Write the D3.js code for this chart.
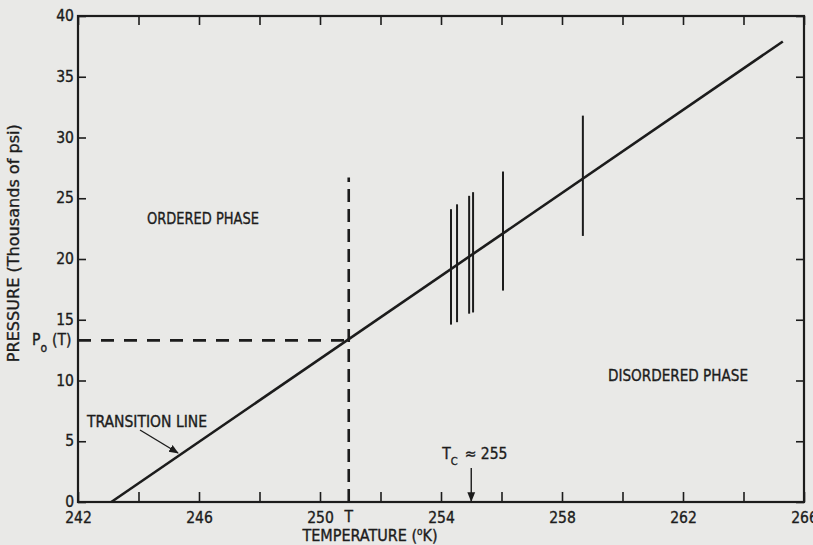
<!DOCTYPE html>
<html>
<head>
<meta charset="utf-8">
<script src="https://cdn.jsdelivr.net/npm/d3@7"></script>
<style>
  body { margin: 0; background: #e9e9e7; }
  svg text { font-family: "DejaVu Sans Condensed", "DejaVu Sans", sans-serif; fill: #1c1c1c;
             stroke: #1c1c1c; stroke-width: 0.35; }
</style>
</head>
<body>
<div id="chart"></div>
<script>
// values
const xTicks = [242, 244, 246, 248, 250, 252, 254, 256, 258, 260, 262, 264, 266];
const xLabels = [242, 246, 250, 254, 258, 262, 266];
const yTicks = [0, 5, 10, 15, 20, 25, 30, 35, 40];

const lineT = [243.1, 265.3];
const lineP = [0, 37.9];

const critT = 250.95;   // "T"
const critP = 13.3;     // "Po (T)"
const critTop = 26.7;   // top of the dashed vertical
const tcValue = 255;

const barT = [254.33, 254.53, 254.93, 255.06, 256.05, 258.69];
const barLow = [14.6, 14.8, 15.5, 15.6, 17.4, 21.9];
const barHigh = [24.1, 24.5, 25.2, 25.5, 27.2, 31.8];

const margin = {top: 16, right: 9, bottom: 43, left: 78},
    width = 813 - margin.left - margin.right,
    height = 545 - margin.top - margin.bottom;

let svg = d3.select("#chart")
            .append("svg")
            .attr("width", 813)
            .attr("height", 545)
        .append("g")
            .attr("transform", `translate(${margin.left}, ${margin.top})`);

const x = d3.scaleLinear().domain([242, 266]).range([0, width]);
const y = d3.scaleLinear().domain([0, 40]).range([height, 0]);

// arrow head
svg.append("defs").append("marker")
    .attr("id", "head")
    .attr("viewBox", "0 0 10 10")
    .attr("refX", 9).attr("refY", 5)
    .attr("markerWidth", 7).attr("markerHeight", 7)
    .attr("orient", "auto")
  .append("path")
    .attr("d", "M0,1 L10,5 L0,9 Z")
    .attr("fill", "#1c1c1c");

// axes, ticks pointing inward
const axBottom = svg.append("g")
    .attr("transform", `translate(0,${height})`)
    .call(d3.axisBottom(x).tickValues(xTicks).tickSize(-10).tickPadding(16)
        .tickFormat(d => xLabels.includes(d) ? d : ""));
const axTop = svg.append("g")
    .call(d3.axisTop(x).tickValues(xTicks).tickSize(-9).tickFormat(""));
const axLeft = svg.append("g")
    .call(d3.axisLeft(y).tickValues(yTicks).tickSize(-8).tickPadding(4));
const axRight = svg.append("g")
    .attr("transform", `translate(${width},0)`)
    .call(d3.axisRight(y).tickValues(yTicks).tickSize(-8).tickFormat(""));

[axBottom, axTop, axLeft, axRight].forEach(g => {
  g.select(".domain").remove();
  g.selectAll(".tick line").attr("stroke", "#1c1c1c").attr("stroke-width", 1.6);
  g.selectAll(".tick text").attr("font-size", 15.5).attr("fill", "#1c1c1c");
});
axBottom.selectAll(".tick text").attr("dy", "0.3em");
axLeft.selectAll(".tick text").attr("dy", "0.3em");

// frame
svg.append("rect")
    .attr("x", 0).attr("y", 0)
    .attr("width", width).attr("height", height)
    .attr("fill", "none")
    .attr("stroke", "#1c1c1c")
    .attr("stroke-width", 2.2);

// dashed guides at the critical point
svg.append("line")
    .attr("x1", x(242)).attr("x2", x(critT))
    .attr("y1", y(critP)).attr("y2", y(critP))
    .attr("stroke", "#1c1c1c").attr("stroke-width", 2.6)
    .attr("stroke-dasharray", "13,10");
svg.append("line")
    .attr("x1", x(critT)).attr("x2", x(critT))
    .attr("y1", y(0)).attr("y2", y(critTop))
    .attr("stroke", "#1c1c1c").attr("stroke-width", 2.6)
    .attr("stroke-dasharray", "13,7");

// transition line
svg.append("line")
    .attr("x1", x(lineT[0])).attr("y1", y(lineP[0]))
    .attr("x2", x(lineT[1])).attr("y2", y(lineP[1]))
    .attr("stroke", "#1c1c1c").attr("stroke-width", 2.6);

// measured ranges
svg.selectAll(".bar")
    .data(barT)
    .join("line")
    .attr("class", "bar")
    .attr("x1", d => x(d)).attr("x2", d => x(d))
    .attr("y1", (d, i) => y(barLow[i]))
    .attr("y2", (d, i) => y(barHigh[i]))
    .attr("stroke", "#1c1c1c").attr("stroke-width", 2);

// labels
svg.append("text").attr("x", 69).attr("y", 208)
    .attr("font-size", 16.5).attr("textLength", 112).attr("lengthAdjust", "spacingAndGlyphs")
    .text("ORDERED PHASE");
svg.append("text").attr("x", 530).attr("y", 365)
    .attr("font-size", 16.5).attr("textLength", 140).attr("lengthAdjust", "spacingAndGlyphs")
    .text("DISORDERED PHASE");
svg.append("text").attr("x", 9).attr("y", 411)
    .attr("font-size", 15.5).attr("textLength", 120).attr("lengthAdjust", "spacingAndGlyphs")
    .text("TRANSITION LINE");
svg.append("line")
    .attr("x1", 62).attr("y1", 414)
    .attr("x2", 100).attr("y2", 437)
    .attr("stroke", "#1c1c1c").attr("stroke-width", 1.4)
    .attr("marker-end", "url(#head)");

// Tc marker
const tc = svg.append("text").attr("x", x(tcValue) - 29).attr("y", 443).attr("font-size", 15.5);
tc.append("tspan").text("T");
tc.append("tspan").attr("font-size", 11).attr("dy", 6).text("C");
tc.append("tspan").attr("dy", -6).attr("dx", 7).text("≈ 255");
svg.append("line")
    .attr("x1", x(tcValue)).attr("x2", x(tcValue))
    .attr("y1", 452).attr("y2", height - 1)
    .attr("stroke", "#1c1c1c").attr("stroke-width", 1.4)
    .attr("marker-end", "url(#head)");

// T under the axis
svg.append("text")
    .attr("x", x(critT)).attr("y", height + 20)
    .attr("text-anchor", "middle").attr("font-size", 15.5).text("T");

// Po (T) on the left
const po = svg.append("text").attr("x", -46).attr("y", y(critP) + 5).attr("font-size", 15.5);
po.append("tspan").text("P");
po.append("tspan").attr("font-size", 12).attr("dy", 7).text("o");
po.append("tspan").attr("dy", -7).attr("dx", 5).text("(T)");

// axis titles
const xt = svg.append("text")
    .attr("x", 292).attr("y", height + 39)
    .attr("text-anchor", "middle").attr("font-size", 16);
xt.append("tspan").text("TEMPERATURE (");
xt.append("tspan").attr("font-size", 10).attr("dy", -6).text("o");
xt.append("tspan").attr("dy", 6).text("K)");

svg.append("text")
    .attr("transform", `translate(-59,${y(21.3)}) rotate(-90)`)
    .attr("text-anchor", "middle").attr("font-size", 16.5)
    .attr("textLength", 238).attr("lengthAdjust", "spacingAndGlyphs")
    .text("PRESSURE (Thousands of psi)");
</script>
</body>
</html>
